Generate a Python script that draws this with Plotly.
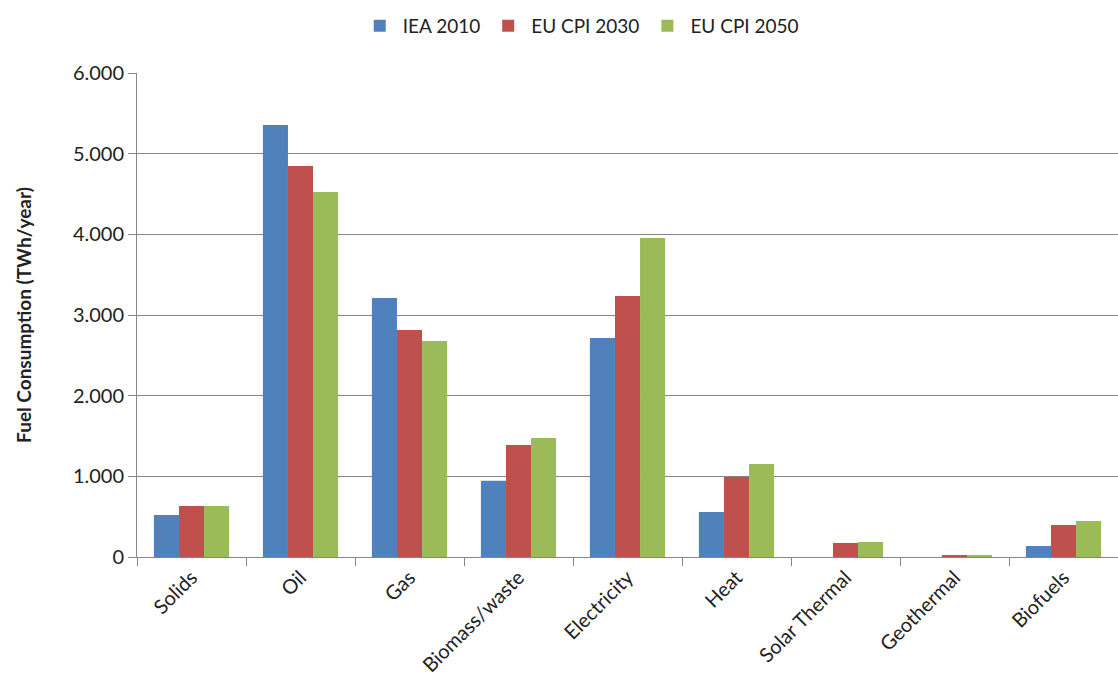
import plotly.graph_objects as go

categories = ["Solids", "Oil", "Gas", "Biomass/waste", "Electricity", "Heat",
              "Solar Thermal", "Geothermal", "Biofuels"]
iea_2010 = [520, 5355, 3211, 945, 2715, 558, 0, 0, 136]
eu_cpi_2030 = [632, 4847, 2814, 1388, 3235, 992, 174, 25, 397]
eu_cpi_2050 = [632, 4525, 2678, 1475, 3954, 1153, 186, 20, 446]
y_ticks = [0, 1000, 2000, 3000, 4000, 5000, 6000]

font_family = "Lato, 'Open Sans', sans-serif"

fig = go.Figure()
for name, vals, color in [("IEA 2010", iea_2010, "#4F81BD"),
                          ("EU CPI 2030", eu_cpi_2030, "#C0504D"),
                          ("EU CPI 2050", eu_cpi_2050, "#9BBB59")]:
    fig.add_trace(go.Bar(name=name, x=categories, y=vals, marker_color=color,
                         marker_line_width=0))

fig.update_layout(
    width=1118, height=690,
    margin=dict(l=137, r=0, t=73, b=133, autoexpand=False),
    paper_bgcolor="white", plot_bgcolor="white",
    barmode="group", bargap=0.31, bargroupgap=0,
    separators=",.",
    font=dict(family=font_family, size=19, color="#222"),
    legend=dict(orientation="h", xref="container", x=0.519, xanchor="center",
                yref="container", y=0.99, yanchor="top",
                font=dict(size=19), itemwidth=36, traceorder="normal"),
    xaxis=dict(showline=True, linecolor="#868686", linewidth=1, automargin=False,
               ticks="outside", tickson="boundaries", ticklen=8, tickcolor="#868686",
               tickangle=-45, tickfont=dict(size=20), showgrid=False),
    yaxis=dict(range=[0, 6000], tickvals=y_ticks, tickformat=",d", automargin=False,
               showline=True, linecolor="#868686", linewidth=1,
               ticks="outside", ticklen=8, tickcolor="#868686",
               showgrid=True, gridcolor="#868686", gridwidth=1,
               tickfont=dict(size=20), zeroline=False,
               title=dict(text="<b>Fuel Consumption (TWh/year)</b>",
                          font=dict(size=19), standoff=36)),
)

fig.write_html("out.html", config={"displayModeBar": False},
               post_script="document.body.style.margin='0';document.body.style.overflow='hidden';")
